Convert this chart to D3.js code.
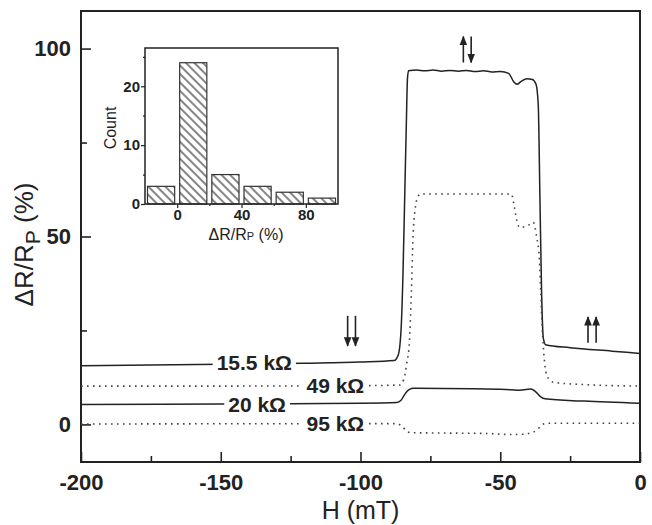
<!DOCTYPE html>
<html>
<head>
<meta charset="utf-8">
<script src="https://cdn.jsdelivr.net/npm/d3@7"></script>
<style>
  body { margin: 0; background: #fff; }
  svg { font-family: Arial, "Liberation Sans", sans-serif; }
</style>
</head>
<body>
<div class="chart"></div>
<script>
// main curves: [H (mT), dR/Rp (%)]
const curve155 = [[-200,15.6],[-150,16.0],[-120,16.3],[-100,16.6],[-88,17.0],[-86.5,18.5],[-85.5,25],[-84.8,40],[-84.2,60],[-83.6,80],[-83.2,92],[-82.8,94.1],[-80,94.3],[-77,94.1],[-74,94.3],[-71,94.0],[-68,94.2],[-65,94.0],[-62,94.2],[-59,93.9],[-56,94.1],[-53,93.8],[-50,93.9],[-47,93.4],[-45.2,91.2],[-44,90.5],[-42.5,91.3],[-40.5,92.0],[-38.5,91.8],[-37.2,90.5],[-36.4,85],[-35.8,60],[-35.2,35],[-34.6,23],[-33.8,21.2],[-25,20.4],[-10,19.5],[0,18.9]];
const curve49 = [[-200,10.2],[-150,10.2],[-100,10.3],[-86,10.5],[-84.5,12],[-83.5,16],[-82.5,22],[-81.8,35],[-81.2,50],[-80.5,57],[-79.5,60.5],[-78.5,61.3],[-60,61.3],[-46,61.3],[-45,58],[-44,54],[-43,52.4],[-40,53],[-38.2,53.8],[-37,50],[-36,44],[-35.5,35],[-35,26],[-34.2,17],[-33.2,12.8],[-31,11.2],[-20,10.6],[0,10.2]];
const curve20 = [[-200,5.3],[-150,5.4],[-100,5.6],[-87,5.8],[-85.5,6.4],[-84,8.2],[-82.5,9.3],[-81,9.6],[-60,9.5],[-48,9.3],[-44,9.1],[-39,9.4],[-37.5,8.8],[-35.5,7.3],[-34,6.8],[-20,6.2],[0,5.6]];
const curve95 = [[-200,0.1],[-100,0.2],[-87,0.2],[-85,-0.6],[-83.5,-1.8],[-82,-2.2],[-70,-2.3],[-55,-2.4],[-46,-2.7],[-42,-2.6],[-38,-2.0],[-36.5,-1.2],[-35,-0.1],[-33.5,0.3],[-20,0.3],[0,0.3]];

const curves = [
  {name: "15.5 kΩ", pts: curve155, dotted: false, lab: [-138, 16.4]},
  {name: "49 kΩ",   pts: curve49,  dotted: true,  lab: [-109, 10.3]},
  {name: "20 kΩ",   pts: curve20,  dotted: false, lab: [-137, 5.3]},
  {name: "95 kΩ",   pts: curve95,  dotted: true,  lab: [-109, 0.2]}
];

// magnetisation arrows: H, y from, y to
const arrows = [
  {h: -104.6, y0: 28.9, y1: 20.9}, {h: -101.8, y0: 28.9, y1: 20.9},
  {h: -63.2, y0: 96.3, y1: 103.2}, {h: -60.4, y0: 103.2, y1: 96.3},
  {h: -18.6, y0: 21.7, y1: 28.6}, {h: -15.7, y0: 21.7, y1: 28.6}
];

// inset histogram
const binStart = [-20, 0, 20, 40, 60, 80];
const binCount = [3, 24, 5, 3, 2, 1];

const xTicks = [-200, -150, -100, -50, 0];
const xMinor = [-175, -125, -75, -25];
const yTicks = [0, 50, 100];
const yMinor = [25, 75];

const W = 652, H = 525;
const ink = "#222";
const plain = d => String(d); // hyphen minus, as in the figure

const svg = d3.select(".chart").append("svg")
  .attr("width", W).attr("height", H);

const defs = svg.append("defs");
defs.append("marker")
  .attr("id", "head")
  .attr("viewBox", "0 -5 10 10")
  .attr("refX", 9).attr("refY", 0)
  .attr("markerWidth", 6).attr("markerHeight", 6)
  .attr("markerUnits", "strokeWidth")
  .attr("orient", "auto")
  .append("path").attr("d", "M0,-4L10,0L0,4Z").attr("fill", ink);

defs.append("pattern")
  .attr("id", "hatch")
  .attr("patternUnits", "userSpaceOnUse")
  .attr("width", 6).attr("height", 6)
  .attr("patternTransform", "rotate(-45)")
  .append("line")
  .attr("x1", 3).attr("y1", 0).attr("x2", 3).attr("y2", 6)
  .attr("stroke", "#333").attr("stroke-width", 1.2);

const x = d3.scaleLinear().domain([-200, 0]).range([81, 640]);
const y = d3.scaleLinear().domain([-10, 110]).range([462, 11]);

// axes with inward ticks
svg.append("g").attr("transform", `translate(0,${y(-10)})`)
  .call(d3.axisBottom(x).tickValues(xTicks).tickFormat(plain).tickSizeInner(-10).tickSizeOuter(0).tickPadding(12))
  .call(g => g.selectAll("text").attr("font-size", 22).attr("font-weight", "bold").attr("fill", ink));
svg.append("g").attr("transform", `translate(0,${y(-10)})`)
  .call(d3.axisBottom(x).tickValues(xMinor).tickSizeInner(-6).tickSizeOuter(0).tickFormat(""));
svg.append("g").attr("transform", `translate(${x(-200)},0)`)
  .call(d3.axisLeft(y).tickValues(yTicks).tickFormat(plain).tickSizeInner(-10).tickSizeOuter(0).tickPadding(10))
  .call(g => g.selectAll("text").attr("font-size", 22).attr("font-weight", "bold").attr("fill", ink));
svg.append("g").attr("transform", `translate(${x(-200)},0)`)
  .call(d3.axisLeft(y).tickValues(yMinor).tickSizeInner(-6).tickSizeOuter(0).tickFormat(""));
svg.selectAll(".domain").remove();
svg.selectAll(".tick line").attr("stroke", ink).attr("stroke-width", 1.6);

svg.append("rect")
  .attr("x", x(-200)).attr("y", y(110))
  .attr("width", x(0) - x(-200)).attr("height", y(-10) - y(110))
  .attr("fill", "none").attr("stroke", ink).attr("stroke-width", 2);

const line = d3.line().x(d => x(d[0])).y(d => y(d[1])).curve(d3.curveMonotoneX);

svg.append("g").selectAll("path")
  .data(curves)
  .join("path")
  .attr("d", d => line(d.pts))
  .attr("fill", "none")
  .attr("stroke", d => d.dotted ? "#444" : ink)
  .attr("stroke-width", d => d.dotted ? 1.6 : 1.5)
  .attr("stroke-dasharray", d => d.dotted ? "1.6,4.4" : null);

// curve labels on white boxes
const labs = svg.append("g").selectAll("g")
  .data(curves)
  .join("g")
  .attr("transform", d => `translate(${x(d.lab[0])},${y(d.lab[1])})`);
labs.append("text")
  .attr("text-anchor", "middle")
  .attr("dy", "0.36em")
  .attr("font-size", 21).attr("font-weight", "bold").attr("fill", ink)
  .text(d => d.name);
labs.each(function() {
  const g = d3.select(this);
  const b = g.select("text").node().getBBox();
  g.insert("rect", "text")
    .attr("x", b.x - 4).attr("y", b.y + 3)
    .attr("width", b.width + 8).attr("height", b.height - 6)
    .attr("fill", "#fff");
});

svg.append("g").selectAll("line")
  .data(arrows)
  .join("line")
  .attr("x1", d => x(d.h)).attr("x2", d => x(d.h))
  .attr("y1", d => y(d.y0)).attr("y2", d => y(d.y1))
  .attr("stroke", ink).attr("stroke-width", 1.6)
  .attr("marker-end", "url(#head)");

// axis titles
svg.append("text")
  .attr("x", (x(-200) + x(0)) / 2).attr("y", 519)
  .attr("text-anchor", "middle").attr("font-size", 25).attr("fill", ink)
  .text("H (mT)");
const yl = svg.append("text")
  .attr("transform", `translate(33,${y(50) + 8}) rotate(-90)`)
  .attr("text-anchor", "middle").attr("font-size", 26).attr("fill", ink);
yl.append("tspan").text("ΔR/R");
yl.append("tspan").attr("font-size", 21).attr("dy", 7).text("P");
yl.append("tspan").attr("dy", -7).text(" (%)");

// inset
const ix = d3.scaleLinear().domain([-20, 100]).range([145, 338]);
const iy = d3.scaleLinear().domain([0, 26.5]).range([204, 48]);
const inset = svg.append("g");

inset.append("rect")
  .attr("x", 145).attr("y", 48).attr("width", 193).attr("height", 156)
  .attr("fill", "#fff");

inset.append("g").selectAll("rect")
  .data(binStart)
  .join("rect")
  .attr("x", d => ix(d) + 2.5)
  .attr("width", d => ix(d + 20) - ix(d) - 5)
  .attr("y", (d, i) => iy(binCount[i]))
  .attr("height", (d, i) => iy(0) - iy(binCount[i]))
  .attr("fill", "url(#hatch)")
  .attr("stroke", "#333").attr("stroke-width", 1.2);

inset.append("g").attr("transform", `translate(0,${iy(0)})`)
  .call(d3.axisBottom(ix).tickValues([0, 40, 80]).tickFormat(plain).tickSizeInner(4).tickSizeOuter(0).tickPadding(1))
  .call(g => g.selectAll("text").attr("font-size", 15).attr("font-weight", "bold").attr("fill", ink));
inset.append("g").attr("transform", `translate(0,${iy(0)})`)
  .call(d3.axisBottom(ix).tickValues([20, 60]).tickSizeInner(2).tickSizeOuter(0).tickFormat(""));
inset.append("g").attr("transform", `translate(${ix(-20)},0)`)
  .call(d3.axisLeft(iy).tickValues([0, 10, 20]).tickFormat(plain).tickSizeInner(4).tickSizeOuter(0).tickPadding(1))
  .call(g => g.selectAll("text").attr("font-size", 15).attr("font-weight", "bold").attr("fill", ink));
inset.append("g").attr("transform", `translate(${ix(-20)},0)`)
  .call(d3.axisLeft(iy).tickValues([5, 15, 25]).tickSizeInner(2).tickSizeOuter(0).tickFormat(""));
inset.selectAll(".domain").remove();
inset.selectAll(".tick line").attr("stroke", ink).attr("stroke-width", 1.2);

inset.append("rect")
  .attr("x", 145).attr("y", 48).attr("width", 193).attr("height", 156)
  .attr("fill", "none").attr("stroke", ink).attr("stroke-width", 1.5);

inset.append("text")
  .attr("transform", "translate(116,128) rotate(-90)")
  .attr("text-anchor", "middle").attr("font-size", 16).attr("fill", ink)
  .text("Count");
const il = inset.append("text")
  .attr("x", 246).attr("y", 240)
  .attr("text-anchor", "middle").attr("font-size", 16).attr("fill", ink);
il.append("tspan").text("ΔR/R");
il.append("tspan").attr("font-size", 11).text("P");
il.append("tspan").text(" (%)");
</script>
</body>
</html>
